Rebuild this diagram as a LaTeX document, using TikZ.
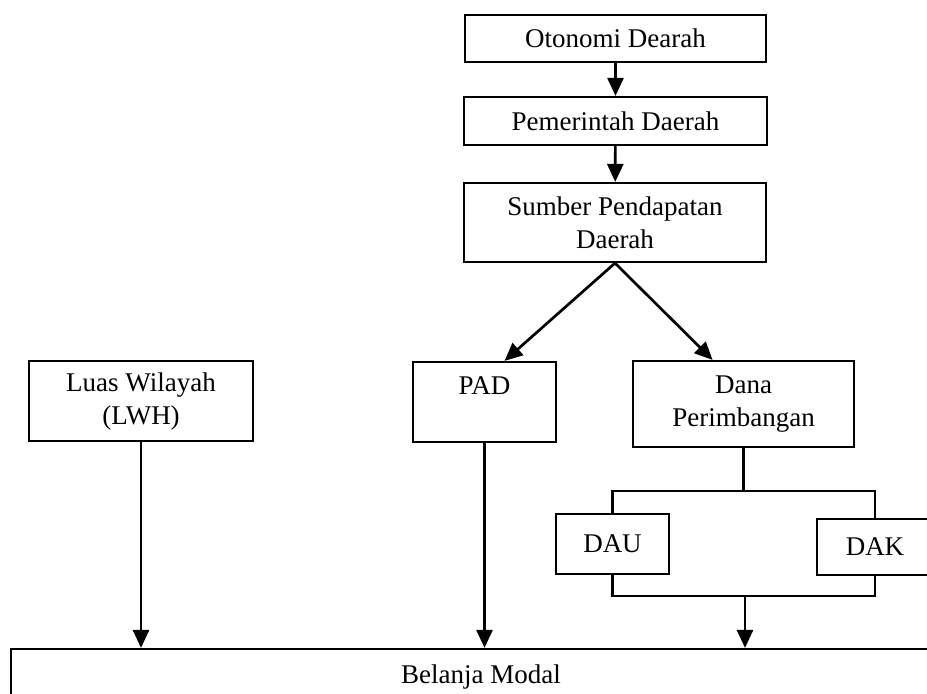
\documentclass[tikz,border=0pt]{standalone}
\usepackage{fontspec}
\setmainfont{Liberation Serif}
\usetikzlibrary{arrows.meta}
\begin{document}
\begin{tikzpicture}[x=0.5pt,y=-0.5pt,
        box/.style={draw,line width=1.1pt,align=center,inner sep=0pt,
            font=\fontsize{13.5}{16.5}\selectfont},
        arr/.style={line width=1.35pt,-{Triangle[length=9pt,width=8pt]}},
        ln/.style={line width=1.1pt}]
        \useasboundingbox (0,0) rectangle (927,693);
        \clip (0,0) rectangle (927,693);
        \node[box,minimum width=150.5pt,minimum height=23.5pt] (oto) at (615.5,38.5) {Otonomi Dearah};
        \node[box,minimum width=151.5pt,minimum height=24pt] (pem) at (615.5,121) {Pemerintah Daerah};
        \node[box,minimum width=151pt,minimum height=39.5pt] (sum) at (615,222.5) {Sumber Pendapatan\\Daerah};
        \node[box,minimum width=112pt,minimum height=40pt] (luas) at (141,401) {Luas Wilayah\\(LWH)};
        \node[box,minimum width=71.5pt,minimum height=40pt] (pad) at (484.5,402) {PAD\\~};
        \node[box,minimum width=110.5pt,minimum height=43pt] (dana) at (743.5,404) {Dana\\Perimbangan};
        \node[box,minimum width=56.5pt,minimum height=30pt] (dau) at (612.5,544) {DAU};
        \node[box,minimum width=58pt,minimum height=28pt] (dak) at (875,547) {DAK};
        \node[box,minimum width=470pt,minimum height=28pt] (bel) at (481,677) {Belanja Modal};
        % arrows
        \draw[arr] (oto) -- (pem);
        \draw[arr] (pem) -- (sum);
        \draw[arr] (sum.south) -- (pad.64);
        \draw[arr] (sum.south) -- (dana.125);
        \coordinate (split) at (743.5,491);
        \coordinate (join) at (745,596);
        \draw[ln] (dana.south) -- (split);
        \draw[ln] (dau.north) |- (split) -| (dak.north);
        \draw[ln] (dau.south) |- (join) -| (dak.south);
        \draw[arr] (join) -- (join |- bel.north);
        \draw[arr] (luas.south) -- (luas.south |- bel.north);
        \draw[arr] (pad.south) -- (pad.south |- bel.north);
    \end{tikzpicture}
\end{document}
